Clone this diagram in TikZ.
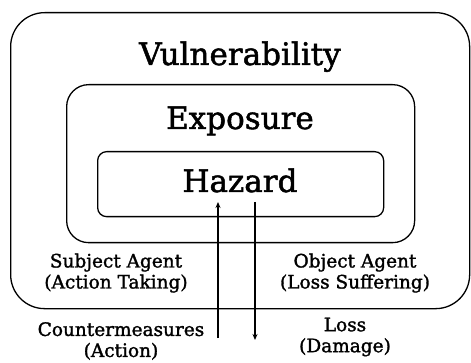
\documentclass[tikz,border=0pt]{standalone}
\usepackage{fontspec}
\setmainfont{DejaVu Serif}[UprightFeatures={FakeBold=1.6}]
\usetikzlibrary{arrows.meta}
\begin{document}
\begin{tikzpicture}[x=1pt,y=-1pt,
  frame/.style={draw=black,line width=1.3pt,rectangle,anchor=north west,inner sep=0pt},
  title/.style={anchor=base,inner sep=0pt,font=\fontsize{31}{36}\selectfont},
  caption/.style={align=center,inner sep=0pt,font=\fontsize{18.5}{21}\selectfont},
  flow/.style={line width=1.3pt,-{Stealth[length=6pt,width=5pt]}}]
\useasboundingbox (0,0) rectangle (471,363);
% nested frames
\node[frame,rounded corners=34pt,minimum width=459pt,minimum height=296pt] (vuln) at (10,12) {};
\node[frame,rounded corners=22pt,minimum width=348pt,minimum height=158pt] (expo) at (66,84) {};
\node[frame,rounded corners=9pt,minimum width=286pt,minimum height=65pt] (haz) at (97,151) {};
% frame titles
\node[title] (tv) at (240,65) {Vulnerability};
\node[title] (te) at (240,129) {Exposure};
\node[title] (th) at (240,192) {Hazard};
% agents
\node[caption] (subj) at (116,273) {Subject Agent\\(Action Taking)};
\node[caption] (obj) at (355,273) {Object Agent\\(Loss Suffering)};
% flows in and out of the hazard
\coordinate (upS) at (218,338);
\coordinate (upE) at (218,202);
\coordinate (dnS) at (255,202);
\coordinate (dnE) at (255,340);
\draw[flow] (upS) -- (upE);
\draw[flow] (dnS) -- (dnE);
\node[caption] (cm) at (121,341) {Countermeasures\\(Action)};
\node[caption] (loss) at (345,337) {Loss\\(Damage)};
\end{tikzpicture}
\end{document}
